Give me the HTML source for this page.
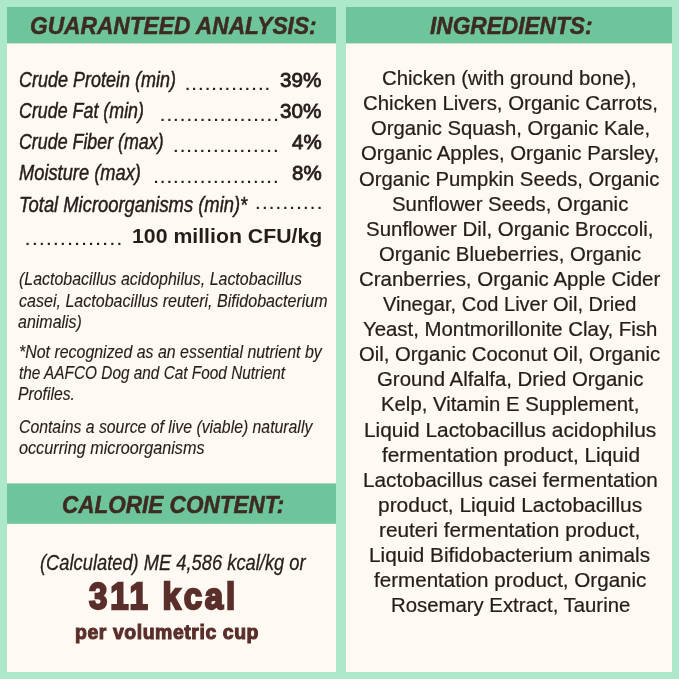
<!DOCTYPE html>
<html lang="en"><head><meta charset="utf-8"><title>Guaranteed Analysis &amp; Ingredients</title>
<style>
html,body{margin:0;padding:0;background:#ade8c9}
body{width:679px;height:679px;background:#ade8c9;position:relative;overflow:hidden;font-family:"Liberation Sans",sans-serif;color:#261d1b}
.p{position:absolute;background:#fefaf3}
.h{position:absolute;background:#6ec59b}
.t{position:absolute;white-space:pre;line-height:1;transform-origin:0 0;margin:0}
</style></head><body>
<svg width="679" height="679" viewBox="0 0 679 679" style="position:absolute;left:0;top:0" aria-hidden="true">
<rect x="7" y="7" width="329" height="665" fill="#fefaf3"/>
<rect x="346" y="7" width="326" height="665" fill="#fefaf3"/>
<rect x="7" y="7" width="329" height="36.4" fill="#6ec59b"/>
<rect x="346" y="7" width="326" height="36.4" fill="#6ec59b"/>
<rect x="7" y="483.4" width="329" height="40.4" fill="#6ec59b"/>
</svg>
<h2 class="t" style="left:29.86px;top:14.00px;font-size:24.2px;font-weight:bold;font-style:italic;-webkit-text-stroke:0.5px;color:#3d2a20;transform:scaleX(0.9396);">GUARANTEED ANALYSIS:</h2>
<h2 class="t" style="left:430.00px;top:14.00px;font-size:24.2px;font-weight:bold;font-style:italic;-webkit-text-stroke:0.5px;color:#3d2a20;transform:scaleX(0.9372);">INGREDIENTS:</h2>
<h2 class="t" style="left:61.67px;top:493.00px;font-size:24.2px;font-weight:bold;font-style:italic;-webkit-text-stroke:0.5px;color:#3d2a20;transform:scaleX(0.9312);">CALORIE CONTENT:</h2>
<div class="t" style="left:19.26px;top:70.00px;font-size:21.3px;font-style:italic;-webkit-text-stroke:0.45px;transform:scaleX(0.8446);">Crude Protein (min)</div>
<div class="t" style="left:19.26px;top:101.00px;font-size:21.3px;font-style:italic;-webkit-text-stroke:0.45px;transform:scaleX(0.8381);">Crude Fat (min)</div>
<div class="t" style="left:19.26px;top:132.00px;font-size:21.3px;font-style:italic;-webkit-text-stroke:0.45px;transform:scaleX(0.8368);">Crude Fiber (max)</div>
<div class="t" style="left:19.30px;top:163.00px;font-size:21.3px;font-style:italic;-webkit-text-stroke:0.45px;transform:scaleX(0.8582);">Moisture (max)</div>
<div class="t" style="left:18.67px;top:195.00px;font-size:21.3px;font-style:italic;-webkit-text-stroke:0.45px;transform:scaleX(0.8635);">Total Microorganisms (min)*</div>
<div class="t" style="left:279.80px;top:71.00px;font-size:19.5px;-webkit-text-stroke:0.8px;transform:scaleX(1.0590);">39%</div>
<div class="t" style="left:279.80px;top:102.00px;font-size:19.5px;-webkit-text-stroke:0.8px;transform:scaleX(1.0590);">30%</div>
<div class="t" style="left:291.70px;top:133.00px;font-size:19.5px;-webkit-text-stroke:0.8px;transform:scaleX(1.0500);">4%</div>
<div class="t" style="left:291.70px;top:164.00px;font-size:19.5px;-webkit-text-stroke:0.8px;transform:scaleX(1.0500);">8%</div>
<div class="t" style="left:132.29px;top:225.00px;font-size:21px;font-weight:bold;transform:scaleX(1.0124);">100 million CFU/kg</div>
<div class="t" style="left:18.70px;top:271.00px;font-size:17.8px;font-style:italic;-webkit-text-stroke:0.14px;transform:scaleX(0.8971);">(Lactobacillus acidophilus, Lactobacillus</div>
<div class="t" style="left:18.50px;top:293.00px;font-size:17.8px;font-style:italic;-webkit-text-stroke:0.14px;transform:scaleX(0.9026);">casei, Lactobacillus reuteri, Bifidobacterium</div>
<div class="t" style="left:18.40px;top:314.00px;font-size:17.8px;font-style:italic;-webkit-text-stroke:0.14px;transform:scaleX(0.8986);">animalis)</div>
<div class="t" style="left:18.90px;top:344.00px;font-size:17.8px;font-style:italic;-webkit-text-stroke:0.14px;transform:scaleX(0.8956);">*Not recognized as an essential nutrient by</div>
<div class="t" style="left:18.74px;top:365.00px;font-size:17.8px;font-style:italic;-webkit-text-stroke:0.14px;transform:scaleX(0.8645);">the AAFCO Dog and Cat Food Nutrient</div>
<div class="t" style="left:17.86px;top:386.00px;font-size:17.8px;font-style:italic;-webkit-text-stroke:0.14px;transform:scaleX(0.8861);">Profiles.</div>
<div class="t" style="left:18.71px;top:419.00px;font-size:17.8px;font-style:italic;-webkit-text-stroke:0.14px;transform:scaleX(0.8885);">Contains a source of live (viable) naturally</div>
<div class="t" style="left:18.69px;top:440.00px;font-size:17.8px;font-style:italic;-webkit-text-stroke:0.14px;transform:scaleX(0.9116);">occurring microorganisms</div>
<div class="t" style="left:40.34px;top:552.00px;font-size:21.2px;font-style:italic;-webkit-text-stroke:0.28px;transform:scaleX(0.8642);">(Calculated) ME 4,586 kcal/kg or</div>
<div class="t" style="left:88.75px;top:578.00px;font-size:37.8px;font-weight:bold;-webkit-text-stroke:2.3px;letter-spacing:3.2px;color:#5a2f2b;transform:scaleX(0.8726);">311 kcal</div>
<div class="t" style="left:74.87px;top:621.00px;font-size:21px;font-weight:bold;-webkit-text-stroke:1.1px;letter-spacing:0.6px;color:#5a2f2b;transform:scaleX(0.9261);">per volumetric cup</div>
<div class="t" style="left:382.34px;top:69.00px;font-size:19.3px;-webkit-text-stroke:0.22px;transform:scaleX(1.0563);">Chicken (with ground bone),</div>
<div class="t" style="left:362.59px;top:94.00px;font-size:19.3px;-webkit-text-stroke:0.22px;transform:scaleX(1.0587);">Chicken Livers, Organic Carrots,</div>
<div class="t" style="left:370.60px;top:119.00px;font-size:19.3px;-webkit-text-stroke:0.22px;transform:scaleX(1.0502);">Organic Squash, Organic Kale,</div>
<div class="t" style="left:361.09px;top:144.00px;font-size:19.3px;-webkit-text-stroke:0.22px;transform:scaleX(1.0552);">Organic Apples, Organic Parsley,</div>
<div class="t" style="left:359.35px;top:170.00px;font-size:19.3px;-webkit-text-stroke:0.22px;transform:scaleX(1.0498);">Organic Pumpkin Seeds, Organic</div>
<div class="t" style="left:391.85px;top:195.00px;font-size:19.3px;-webkit-text-stroke:0.22px;transform:scaleX(1.0550);">Sunflower Seeds, Organic</div>
<div class="t" style="left:365.59px;top:220.00px;font-size:19.3px;-webkit-text-stroke:0.22px;transform:scaleX(1.0604);">Sunflower Dil, Organic Broccoli,</div>
<div class="t" style="left:378.60px;top:245.00px;font-size:19.3px;-webkit-text-stroke:0.22px;transform:scaleX(1.0545);">Organic Blueberries, Organic</div>
<div class="t" style="left:359.34px;top:270.00px;font-size:19.3px;-webkit-text-stroke:0.22px;transform:scaleX(1.0608);">Cranberries, Organic Apple Cider</div>
<div class="t" style="left:383.40px;top:295.00px;font-size:19.3px;-webkit-text-stroke:0.22px;transform:scaleX(1.0389);">Vinegar, Cod Liver Oil, Dried</div>
<div class="t" style="left:363.09px;top:320.00px;font-size:19.3px;-webkit-text-stroke:0.22px;transform:scaleX(1.0565);">Yeast, Montmorillonite Clay, Fish</div>
<div class="t" style="left:358.85px;top:345.00px;font-size:19.3px;-webkit-text-stroke:0.22px;transform:scaleX(1.0523);">Oil, Organic Coconut Oil, Organic</div>
<div class="t" style="left:376.84px;top:370.00px;font-size:19.3px;-webkit-text-stroke:0.22px;transform:scaleX(1.0576);">Ground Alfalfa, Dried Organic</div>
<div class="t" style="left:380.60px;top:395.00px;font-size:19.3px;-webkit-text-stroke:0.22px;transform:scaleX(1.0541);">Kelp, Vitamin E Supplement,</div>
<div class="t" style="left:363.57px;top:421.00px;font-size:19.3px;-webkit-text-stroke:0.22px;transform:scaleX(1.0816);">Liquid Lactobacillus acidophilus</div>
<div class="t" style="left:381.65px;top:446.00px;font-size:19.3px;-webkit-text-stroke:0.22px;transform:scaleX(1.0796);">fermentation product, Liquid</div>
<div class="t" style="left:362.58px;top:471.00px;font-size:19.3px;-webkit-text-stroke:0.22px;transform:scaleX(1.0748);">Lactobacillus casei fermentation</div>
<div class="t" style="left:377.61px;top:496.00px;font-size:19.3px;-webkit-text-stroke:0.22px;transform:scaleX(1.0860);">product, Liquid Lactobacillus</div>
<div class="t" style="left:379.32px;top:521.00px;font-size:19.3px;-webkit-text-stroke:0.22px;transform:scaleX(1.0788);">reuteri fermentation product,</div>
<div class="t" style="left:369.33px;top:546.00px;font-size:19.3px;-webkit-text-stroke:0.22px;transform:scaleX(1.0746);">Liquid Bifidobacterium animals</div>
<div class="t" style="left:373.65px;top:571.00px;font-size:19.3px;-webkit-text-stroke:0.22px;transform:scaleX(1.0680);">fermentation product, Organic</div>
<div class="t" style="left:390.60px;top:596.00px;font-size:19.3px;-webkit-text-stroke:0.22px;transform:scaleX(1.0549);">Rosemary Extract, Taurine</div>
<div class="t" style="left:185.42px;top:77.00px;font-size:15px;font-weight:bold;letter-spacing:2.491px">.............</div>
<div class="t" style="left:160.52px;top:108.00px;font-size:15px;font-weight:bold;letter-spacing:2.503px">..................</div>
<div class="t" style="left:173.72px;top:139.00px;font-size:15px;font-weight:bold;letter-spacing:2.493px">................</div>
<div class="t" style="left:153.92px;top:170.00px;font-size:15px;font-weight:bold;letter-spacing:2.488px">...................</div>
<div class="t" style="left:255.82px;top:196.00px;font-size:15px;font-weight:bold;letter-spacing:2.677px">..........</div>
<div class="t" style="left:25.62px;top:232.00px;font-size:15px;font-weight:bold;letter-spacing:2.879px">..............</div>
</body></html>
